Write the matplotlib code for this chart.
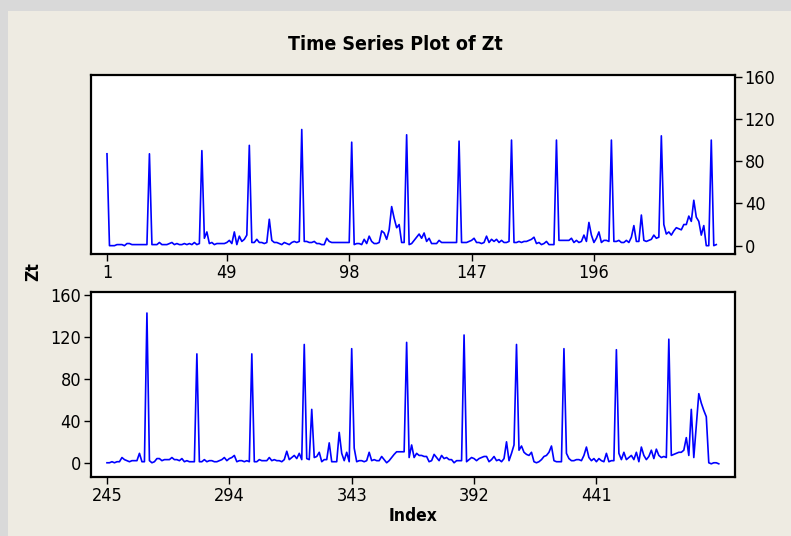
import matplotlib
matplotlib.use('Agg')
import matplotlib.pyplot as plt
from matplotlib.patches import Rectangle

# data Zt (panel atas indeks 1-245, panel bawah 245-490)
zt_top = [
    87,
    0, 0, 0, 1, 1, 1, 0, 2, 2, 1, 1, 1, 1, 1, 1, 1,
    87,
    1, 1, 1, 3, 1, 1, 1, 2, 3, 1, 2, 1, 1, 2, 1, 2, 1, 3, 1, 2,
    90,
    7, 13, 2, 3, 1, 2, 2, 2, 2, 3, 5, 2, 13, 1, 9, 4, 6, 10,
    95,
    3, 3, 6, 3, 3, 2, 3, 25, 5, 3, 3, 2, 1, 3, 2, 1, 3, 4, 3, 4,
    110,
    4, 4, 3, 3, 4, 2, 2, 1, 1, 7, 4, 3, 3, 3, 3, 3, 3, 3, 3,
    98,
    1, 2, 2, 1, 6, 2, 9, 4, 2, 2, 3, 14, 12, 6, 15, 37, 26, 17, 20, 3, 3,
    105,
    1, 2, 5, 8, 11, 7, 12, 4, 7, 2, 2, 2, 5, 3, 3, 3, 3, 3, 3, 3,
    99,
    3, 3, 3, 4, 5, 7, 3, 3, 2, 3, 9, 3, 6, 4, 6, 3, 5, 3, 3, 4,
    100,
    3, 3, 4, 3, 4, 4, 5, 6, 8, 2, 3, 1, 2, 4, 1, 1, 1,
    100,
    5, 5, 5, 5, 5, 7, 3, 5, 3, 4, 10, 4, 22, 10, 3, 7, 13, 3, 5, 5, 4,
    100,
    4, 4, 5, 3, 3, 5, 3, 8, 19, 4, 4, 29, 5, 4, 5, 6, 10, 7, 8,
    104,
    20, 11, 13, 10, 14, 17, 16, 15, 20, 20, 28, 23, 43, 27, 23, 10, 19, 0, 0,
    100,
    0, 1,
]

zt_bottom = [
    0, 0, 1, 0, 1, 1, 5, 3, 2, 1, 2, 2, 2, 9, 1, 1,
    143,
    2, 0, 1, 4, 4, 2, 3, 3, 3, 5, 3, 3, 2, 4, 1, 2, 1, 1, 1,
    104,
    1, 1, 3, 1, 2, 2, 1, 1, 2, 3, 5, 2, 4, 5, 7, 1, 2, 2, 1, 2, 1,
    104,
    1, 1, 3, 2, 2, 2, 5, 2, 3, 2, 2, 1, 3, 11, 3, 5, 7, 4, 9, 3,
    113,
    4, 3, 51,
    5, 6, 10, 1, 3, 3, 19, 1, 1, 1, 29, 9, 2, 10, 1,
    109,
    14, 1, 2, 2, 1, 2, 10, 2, 3, 2, 2, 6, 3, 0, 2, 5, 8, 10.5, 10.5, 10.5, 10.5,
    115,
    5, 17, 5, 9, 7, 7, 6, 6, 1, 2, 8, 5, 2, 7, 4, 5, 3, 3, 0, 2, 2, 2,
    122,
    1, 3, 5, 4, 2, 4, 5, 6, 6, 1, 3, 6, 2, 3, 1, 4, 20, 2, 9, 17,
    113,
    12, 16, 10, 8, 7, 10, 1, 0, 1, 3, 6, 7, 10, 16, 2, 1, 1, 1,
    109,
    9, 4, 2, 2, 3, 3, 2, 7, 15, 5, 2, 4, 1, 4, 2, 1, 9, 1, 2, 2,
    108,
    9, 3, 10, 3, 5, 7, 3, 10, 1, 15, 7, 3, 6, 12, 4, 13, 7, 5, 6, 5,
    118,
    7, 8, 9, 10, 10, 12, 24, 7, 51, 5, 35, 66, 57, 50, 44, 0, -1, 0, 0, -1,
]

idx_top = list(range(1, 1 + len(zt_top)))
idx_bottom = list(range(245, 245 + len(zt_bottom)))

ticks_top = [1, 49, 98, 147, 196]
ticks_bottom = [245, 294, 343, 392, 441]
yticks = [0, 40, 80, 120, 160]

BG = '#eeebe2'
LINE = '#0000ff'
plt.rcParams['font.family'] = 'DejaVu Sans'
plt.rcParams['font.stretch'] = 'condensed'

fig = plt.figure(figsize=(7.91, 5.36), dpi=100)
fig.patch.set_facecolor('#d9d9d9')
# latar krem (tepi kiri & atas abu-abu seperti di gambar asli)
fig.patches.append(Rectangle((8 / 791, 0), 1, 1 - 11 / 536, transform=fig.transFigure,
                             facecolor=BG, edgecolor='none', zorder=-10))

ax1 = fig.add_axes([91 / 791, 1 - 254 / 536, 644 / 791, 179 / 536])
ax2 = fig.add_axes([91 / 791, 1 - 477 / 536, 644 / 791, 185 / 536])

for ax in (ax1, ax2):
    ax.set_facecolor('white')
    for s in ax.spines.values():
        s.set_linewidth(1.6)
        s.set_color('black')
    ax.set_yticks(yticks)
    ax.tick_params(direction='out', length=5, width=1, labelsize=13, pad=2)

ax1.plot(idx_top, zt_top, color=LINE, lw=1.2)
ax1.set_xlim(-5.4, 252.5)
ax1.set_ylim(-7.9, 161.6)
ax1.set_xticks(ticks_top)
ax1.yaxis.tick_right()

ax2.plot(idx_bottom, zt_bottom, color=LINE, lw=1.2)
ax2.set_xlim(238.6, 496.5)
ax2.set_ylim(-13.6, 163.1)
ax2.set_xticks(ticks_bottom)

fig.text(0.5, 1 - 44 / 536, 'Time Series Plot of Zt', ha='center', va='center',
         fontsize=14, fontweight='bold')
fig.text(33 / 791, 1 - 272 / 536, 'Zt', ha='center', va='center', rotation=90,
         fontsize=12.5, fontweight='bold')
fig.text(413 / 791, 1 - 516 / 536, 'Index', ha='center', va='center',
         fontsize=12.5, fontweight='bold')

fig.savefig('out.png', dpi=100, facecolor=fig.get_facecolor())
